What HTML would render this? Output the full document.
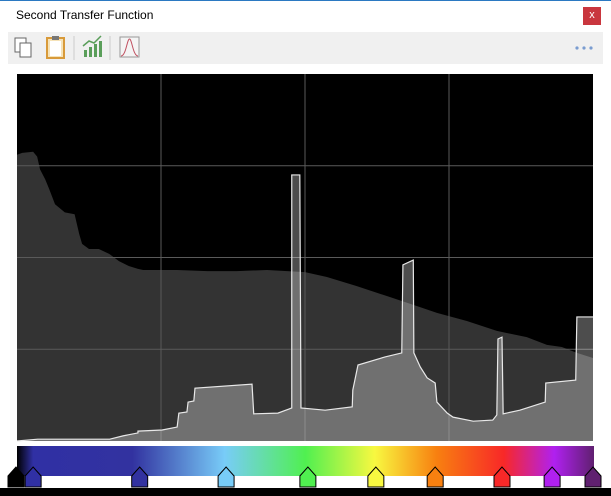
<!DOCTYPE html>
<html><head><meta charset="utf-8"><style>
body{margin:0;width:611px;height:496px;background:#000;position:relative;overflow:hidden;font-family:"Liberation Sans",sans-serif}
.abs{position:absolute}
</style></head><body>
<div class="abs" style="left:0;top:0;width:611px;height:488px;background:#fff"></div>
<div class="abs" style="left:0;top:0;width:611px;height:1px;background:#2b79c2"></div>
<div class="abs" style="left:16px;top:8px;font-size:12px;color:#000">Second Transfer Function</div>
<div class="abs" style="left:583px;top:7px;width:18px;height:18px;background:#c9363e;color:#fff;font-size:11px;text-align:center;line-height:17px">x</div>
<div class="abs" style="left:8px;top:32px;width:595px;height:32px;background:#f0f0f0"></div>
<svg class="abs" style="left:0;top:32px" width="611" height="32">
<g><rect x="15" y="6" width="11" height="14" fill="#fff" stroke="#666"/><rect x="20" y="11" width="11" height="14" fill="#fff" stroke="#666"/></g>
<g><rect x="47" y="6" width="17" height="20" fill="#f6e3b8" stroke="#d89a3a" stroke-width="2"/><rect x="50" y="9" width="11" height="15" fill="#fff"/><rect x="52" y="4" width="7" height="4" fill="#777"/></g>
<line x1="74" y1="4" x2="74" y2="28" stroke="#ccc"/>
<g fill="#5a9e5a"><rect x="84" y="18" width="3" height="7"/><rect x="89" y="15" width="3" height="10"/><rect x="94" y="12" width="3" height="13"/><rect x="99" y="9" width="3" height="16"/><polyline points="83,14 89,9 94,11 101,4" fill="none" stroke="#5a9e5a" stroke-width="1.5"/></g>
<line x1="110" y1="4" x2="110" y2="28" stroke="#ccc"/>
<g><rect x="120" y="5" width="19" height="20" fill="#f4f4f4" stroke="#999"/><path d="M121,24 C126,24 127,7 129.5,7 C132,7 133,24 138,24" fill="none" stroke="#c05060"/></g>
<g fill="#7a9cd0"><circle cx="577" cy="16" r="1.6"/><circle cx="584" cy="16" r="1.6"/><circle cx="591" cy="16" r="1.6"/></g>
</svg>
<svg id="chart" class="abs" style="left:0;top:0" width="611" height="496"></svg>
<script>
const histX=[0,0.009,0.028,0.035,0.04,0.049,0.056,0.066,0.083,0.1,0.108,0.113,0.125,0.142,0.16,0.177,0.194,0.21,0.219,0.243,0.278,0.33,0.382,0.434,0.469,0.5,0.538,0.59,0.642,0.694,0.729,0.781,0.833,0.885,0.92,0.946,0.972,1];
const histY=[0.78,0.785,0.788,0.775,0.74,0.713,0.686,0.645,0.623,0.618,0.564,0.537,0.523,0.523,0.51,0.49,0.477,0.469,0.466,0.466,0.466,0.463,0.463,0.466,0.463,0.46,0.447,0.422,0.395,0.368,0.349,0.327,0.3,0.283,0.262,0.256,0.24,0.226];
const tfX=[0,0.036,0.161,0.184,0.210,0.210,0.252,0.278,0.281,0.295,0.297,0.307,0.309,0.408,0.411,0.453,0.472,0.477,0.477,0.491,0.493,0.535,0.582,0.583,0.592,0.639,0.668,0.670,0.688,0.689,0.700,0.712,0.726,0.729,0.747,0.757,0.792,0.826,0.833,0.835,0.842,0.844,0.873,0.917,0.918,0.970,0.972,1];
const tfY=[0,0.005,0.005,0.014,0.022,0.027,0.030,0.038,0.076,0.079,0.106,0.109,0.144,0.155,0.074,0.076,0.087,0.090,0.725,0.725,0.090,0.084,0.093,0.139,0.207,0.229,0.240,0.480,0.493,0.240,0.202,0.172,0.158,0.106,0.076,0.065,0.054,0.057,0.071,0.278,0.283,0.074,0.084,0.106,0.158,0.166,0.338,0.338];
const gridX=[0.25,0.5,0.75];
const gridY=[0.25,0.5,0.75];
const stopPos=[0,0.028,0.2,0.36,0.5,0.62,0.727,0.844,0.931,1];
const stopCol=["#000000","#3030a4","#3232a0","#78ccf8","#50f050","#f8f840","#f88010","#f82828","#b020f0","#602070"];
const NS="http://www.w3.org/2000/svg";
const L=17,R=593,T=74,B=441;
const sx=v=>L+v*(R-L), sy=v=>B-v*(B-T);
const svg=document.getElementById('chart');
function mk(t,a){const e=document.createElementNS(NS,t);for(const k in a)e.setAttribute(k,a[k]);svg.appendChild(e);return e;}
let e=mk('rect',{x:L,y:T,width:R-L,height:B-T,fill:'#000'});


let d='M'+sx(0)+','+sy(0);
for(let i=0;i<histX.length;i++){d+=' L'+sx(histX[i])+','+sy(histY[i]);}
d+=' L'+sx(1)+','+sy(0)+' Z';
e=mk('path',{d:d,fill:'#333'});


gridX.forEach(g=>{const l=mk('line',{x1:sx(g),x2:sx(g),y1:T,y2:B,stroke:'#5a5a5a','stroke-width':1});

});
gridY.forEach(g=>{const l=mk('line',{x1:L,x2:R,y1:sy(g),y2:sy(g),stroke:'#5a5a5a','stroke-width':1});

});
let pts=tfX.map((x,i)=>sx(x)+','+sy(tfY[i])).join(' ');
e=mk('polygon',{points:sx(0)+','+sy(0)+' '+pts+' '+sx(1)+','+sy(0),fill:'rgba(255,255,255,0.3)'});


e=mk('polyline',{points:pts,fill:'none',stroke:'#e8e8e8','stroke-width':1.2});


const defs=mk('defs',{});
const gr=document.createElementNS(NS,'linearGradient');gr.setAttribute('id','cg');defs.appendChild(gr);
stopPos.forEach((p,i)=>{const s=document.createElementNS(NS,'stop');s.setAttribute('offset',p);s.setAttribute('stop-color',stopCol[i]);gr.appendChild(s);});
e=mk('rect',{x:8,y:446,width:594,height:42,fill:'#fff'});


e=mk('rect',{x:L,y:446,width:R-L+1,height:30,fill:'url(#cg)'});


const mkX=[-0.002,0.028,0.213,0.363,0.505,0.623,0.726,0.842,0.929,1];
stopCol.forEach((c,i)=>{const cx=i==0?16:sx(mkX[i]);
const m=mk('polygon',{points:`${cx-8},487 ${cx-8},476 ${cx},467 ${cx+8},476 ${cx+8},487`,fill:c,stroke:'#000','stroke-width':1});

});
</script>
</body></html>
